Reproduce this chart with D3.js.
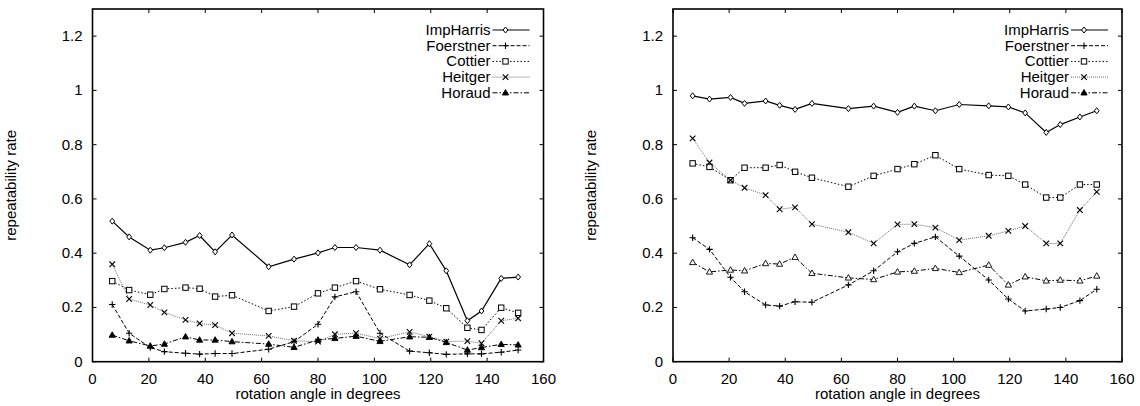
<!DOCTYPE html>
<html>
<head>
<meta charset="utf-8">
<script src="https://cdn.jsdelivr.net/npm/d3@7"></script>
<style>
  body { margin: 0; background: #fff; }
  svg { font-family: "Liberation Sans", Arial, sans-serif; }
</style>
</head>
<body>
<svg id="chart" width="1140" height="406"></svg>
<script>
// rotation angles (degrees) sampled in both experiments
const angles = [7, 13, 20.5, 25.5, 33, 38, 43.5, 49.5, 62.5, 71.5, 80, 86, 93.5, 102, 112.5, 119.5, 125.5, 133, 138, 145, 151];

const seriesNames = ["ImpHarris", "Foerstner", "Cottier", "Heitger", "Horaud"];

// left panel
const leftImpHarris = [0.518, 0.460, 0.411, 0.420, 0.440, 0.465, 0.405, 0.467, 0.350, 0.378, 0.401, 0.421, 0.421, 0.411, 0.357, 0.435, 0.335, 0.151, 0.187, 0.307, 0.312];
const leftFoerstner = [0.211, 0.105, 0.052, 0.037, 0.031, 0.028, 0.030, 0.030, 0.046, 0.074, 0.138, 0.239, 0.258, 0.105, 0.039, 0.033, 0.027, 0.029, 0.029, 0.035, 0.043];
const leftCottier   = [0.297, 0.264, 0.247, 0.268, 0.273, 0.269, 0.240, 0.245, 0.187, 0.203, 0.252, 0.273, 0.297, 0.267, 0.246, 0.225, 0.197, 0.125, 0.117, 0.199, 0.180];
const leftHeitger   = [0.359, 0.231, 0.209, 0.182, 0.154, 0.141, 0.135, 0.105, 0.095, 0.077, 0.074, 0.101, 0.105, 0.085, 0.110, 0.092, 0.074, 0.076, 0.068, 0.151, 0.160];
const leftHoraud    = [0.098, 0.077, 0.058, 0.065, 0.092, 0.080, 0.080, 0.074, 0.065, 0.053, 0.080, 0.086, 0.094, 0.075, 0.092, 0.090, 0.071, 0.043, 0.052, 0.064, 0.062];

// right panel
const rightImpHarris = [0.980, 0.968, 0.974, 0.952, 0.961, 0.945, 0.930, 0.952, 0.933, 0.942, 0.919, 0.942, 0.925, 0.948, 0.943, 0.939, 0.917, 0.845, 0.874, 0.902, 0.925];
const rightFoerstner = [0.457, 0.414, 0.311, 0.258, 0.209, 0.205, 0.221, 0.219, 0.283, 0.335, 0.405, 0.436, 0.460, 0.389, 0.301, 0.231, 0.187, 0.194, 0.200, 0.225, 0.267];
const rightCottier   = [0.731, 0.718, 0.669, 0.715, 0.715, 0.725, 0.700, 0.678, 0.645, 0.685, 0.710, 0.728, 0.761, 0.710, 0.688, 0.685, 0.653, 0.605, 0.605, 0.653, 0.653];
const rightHeitger   = [0.823, 0.734, 0.669, 0.641, 0.614, 0.562, 0.569, 0.507, 0.477, 0.436, 0.506, 0.507, 0.494, 0.448, 0.464, 0.482, 0.500, 0.436, 0.436, 0.559, 0.626];
const rightHoraud    = [0.366, 0.331, 0.338, 0.335, 0.362, 0.360, 0.385, 0.326, 0.309, 0.303, 0.331, 0.334, 0.344, 0.329, 0.356, 0.283, 0.313, 0.298, 0.301, 0.298, 0.316];

const xTicks = [0, 20, 40, 60, 80, 100, 120, 140, 160];
const yTicks = [0, 0.2, 0.4, 0.6, 0.8, 1, 1.2];

// line style per series
const styles = {
  ImpHarris: {dash: null, color: "#000", width: 1.2, sym: "diamond"},
  Foerstner: {dash: "4,2", color: "#000", width: 1, sym: "plus"},
  Cottier:   {dash: "1.5,2", color: "#000", width: 1, sym: "square"},
  Heitger:   {dash: "1,1", color: "#444", width: 0.8, sym: "times"},
  Horaud:    {dash: "5,2,1.5,2", color: "#000", width: 1, sym: "triangle"}
};

const svg = d3.select("#chart");

function marker(g, sym, cx, cy, hollowTri) {
  if (sym === "diamond") {
    g.append("path").attr("d", `M${cx},${cy-3}L${cx+2.4},${cy}L${cx},${cy+3}L${cx-2.4},${cy}Z`)
      .attr("fill", "#fff").attr("stroke", "#000").attr("stroke-width", 1);
  } else if (sym === "plus") {
    g.append("path").attr("d", `M${cx-3.2},${cy}H${cx+3.2}M${cx},${cy-3.2}V${cy+3.2}`)
      .attr("stroke", "#000").attr("stroke-width", 1.1);
  } else if (sym === "square") {
    g.append("rect").attr("x", cx-2.7).attr("y", cy-2.7).attr("width", 5.4).attr("height", 5.4)
      .attr("fill", "#fff").attr("stroke", "#000").attr("stroke-width", 1);
  } else if (sym === "times") {
    g.append("path").attr("d", `M${cx-2.8},${cy-2.8}L${cx+2.8},${cy+2.8}M${cx-2.8},${cy+2.8}L${cx+2.8},${cy-2.8}`)
      .attr("stroke", "#000").attr("stroke-width", 1.1);
  } else if (sym === "triangle") {
    g.append("path").attr("d", `M${cx},${cy-3.3}L${cx+3.1},${cy+2.2}L${cx-3.1},${cy+2.2}Z`)
      .attr("fill", hollowTri ? "#fff" : "#000").attr("stroke", "#000").attr("stroke-width", 0.9);
  }
}

function drawPanel(left, right, series, ylabelX, hollowTri) {
  const x = d3.scaleLinear().domain([0, 160]).range([left, right]);
  const y = d3.scaleLinear().domain([0, 1.3]).range([361.7, 9]);
  const g = svg.append("g");

  // ticks (inward, on all four sides)
  xTicks.forEach(t => {
    g.append("line").attr("x1", x(t)).attr("x2", x(t)).attr("y1", y(0)).attr("y2", y(0) - 4)
      .attr("stroke", "#000").attr("stroke-width", 1);
    g.append("line").attr("x1", x(t)).attr("x2", x(t)).attr("y1", y(1.3)).attr("y2", y(1.3) + 4)
      .attr("stroke", "#000").attr("stroke-width", 1);
    g.append("text").attr("x", x(t)).attr("y", 384).attr("text-anchor", "middle")
      .attr("font-size", 15).text(t);
  });
  yTicks.forEach(t => {
    g.append("line").attr("x1", x(0)).attr("x2", x(0) + 4).attr("y1", y(t)).attr("y2", y(t))
      .attr("stroke", "#000").attr("stroke-width", 1);
    g.append("line").attr("x1", x(160)).attr("x2", x(160) - 4).attr("y1", y(t)).attr("y2", y(t))
      .attr("stroke", "#000").attr("stroke-width", 1);
    g.append("text").attr("x", x(0) - 10).attr("y", y(t) + 5).attr("text-anchor", "end")
      .attr("font-size", 15).text(t);
  });

  g.append("rect").attr("x", x(0)).attr("y", y(1.3)).attr("width", x(160) - x(0)).attr("height", y(0) - y(1.3))
    .attr("fill", "none").attr("stroke", "#000").attr("stroke-width", 1.6);

  g.append("text").attr("x", (left + right) / 2).attr("y", 399).attr("text-anchor", "middle")
    .attr("font-size", 15).text("rotation angle in degrees");
  g.append("text").attr("transform", `translate(${ylabelX},${(y(0) + y(1.3)) / 2}) rotate(-90)`)
    .attr("text-anchor", "middle").attr("font-size", 15).text("repeatability rate");

  const line = d3.line().x((d, i) => x(angles[i])).y(d => y(d));

  seriesNames.forEach((name, k) => {
    const st = styles[name];
    const vals = series[k];
    g.append("path").datum(vals).attr("d", line).attr("fill", "none")
      .attr("stroke", st.color).attr("stroke-width", st.width)
      .attr("stroke-dasharray", st.dash);
    vals.forEach((v, i) => marker(g, st.sym, x(angles[i]), y(v), hollowTri));

    // legend entry
    const ly = 30 + k * 15.7;
    g.append("text").attr("x", right - 53).attr("y", ly + 5).attr("text-anchor", "end")
      .attr("font-size", 15).text(name);
    g.append("line").attr("x1", right - 51).attr("x2", right - 14).attr("y1", ly).attr("y2", ly)
      .attr("stroke", st.color).attr("stroke-width", st.width).attr("stroke-dasharray", st.dash);
    marker(g, st.sym, right - 38, ly, false);
  });
}

drawPanel(92.5, 543.5, [leftImpHarris, leftFoerstner, leftCottier, leftHeitger, leftHoraud], 16, false);
drawPanel(673, 1122, [rightImpHarris, rightFoerstner, rightCottier, rightHeitger, rightHoraud], 596, true);
</script>
</body>
</html>
